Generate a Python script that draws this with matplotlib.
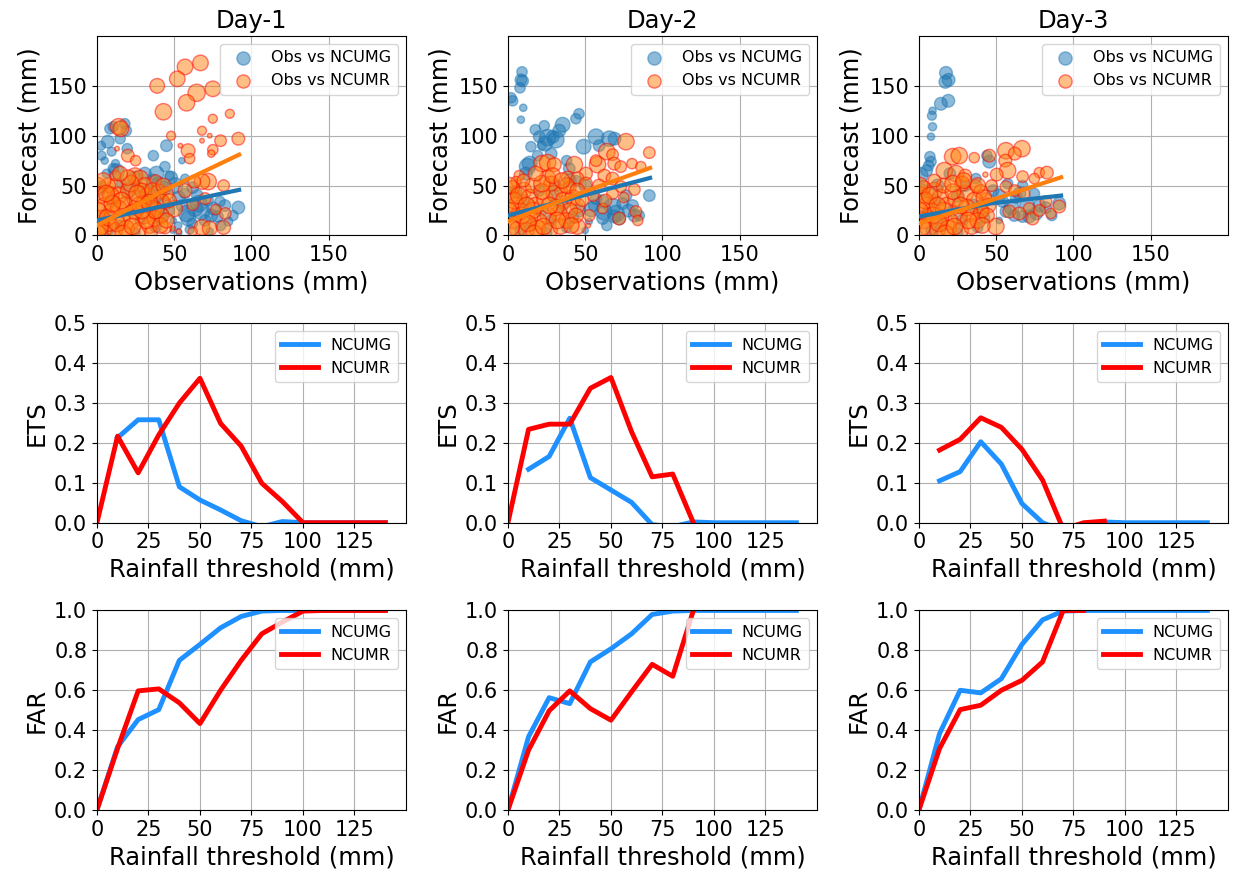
import numpy as np
import matplotlib
matplotlib.use("Agg")
import matplotlib.pyplot as plt

nan = np.nan
days = ["Day-1", "Day-2", "Day-3"]
thresholds = [0, 10, 20, 30, 40, 50, 60, 70, 80, 90, 100, 110, 120, 130, 140]

# ---- ETS ----
ets_g_d1 = [nan, .213, .258, .258, .09, .057, .032, .005, -.01, .003, 0, 0, 0, 0, 0]
ets_r_d1 = [0, .217, .125, .22, .30, .362, .249, .192, .099, .053, 0, 0, 0, 0, 0]
ets_g_d2 = [nan, .134, .166, .262, .113, .082, .051, -.005, -.01, .002, 0, 0, 0, 0, 0]
ets_r_d2 = [0, .234, .247, .247, .337, .364, .228, .115, .122, 0, nan, nan, nan, nan, nan]
ets_g_d3 = [nan, .105, .128, .203, .147, .048, 0, -.02, -.02, .002, 0, 0, 0, 0, 0]
ets_r_d3 = [nan, .182, .209, .263, .239, .184, .107, -.016, 0, .004, nan, nan, nan, nan, nan]

# ---- FAR ----
far_g_d1 = [0, .317, .453, .503, .75, .83, .913, .97, .997, 1, 1, 1, 1, 1, 1]
far_r_d1 = [0, .308, .597, .607, .537, .433, .60, .75, .883, .942, .997, 1, 1, 1, 1]
far_g_d2 = [0, .367, .563, .533, .742, .808, .883, .98, .997, 1, 1, 1, 1, 1, 1]
far_r_d2 = [0, .30, .497, .597, .508, .45, .592, .73, .67, 1, nan, nan, nan, nan, nan]
far_g_d3 = [0, .383, .60, .587, .658, .83, .953, .997, 1, 1, 1, 1, 1, 1, 1]
far_r_d3 = [0, .308, .503, .525, .60, .65, .742, 1, 1, nan, nan, nan, nan, nan, nan]

# ---- scatter: (obs, forecast, size) ----
sc_g_d1 = [(2.6,90,30),(7,94,60),(9.5,84,30),(8.4,107,40),(10.6,109,40),(18,112,40),(19,105,40),(15,97,40),
           (19.6,87,40),(3,80,30),(36.5,80,40),(45,90,50),(44,69,40),(38.6,62,80),(6.3,62,30),(12.7,64,90),
           (10.6,67,40),(3,50,30),(57,57,30),(55,75,15),(31,62,60),(24.6,57,80),(5,75,20),(12,72,25),(16,52,40),
           (26,48,60),(33,45,50),(40,52,70),(47,60,30),(82.8,30,50),(91.5,28,60),(79.6,34,40),(67.7,24,100),
           (63.4,27,90),(59,17,80),(55,30,50),(61.7,12,40),(52.6,10,20),(75.3,27,60),(70,15,50),(49.4,15,15),
           (44,32,60),(39.7,40,50),(50.5,50,90),(88,20,40),(85,14,30),(78,19,50),(72,35,40),(65,40,50),(57,42,40),
           (53,3,15),(49,5,12),(60,6,30),(73,4,20),(5,20,50),(10,35,60),(15,10,40),(22,25,50),(28,15,40),
           (35,30,60),(42,18,50),(30,40,40),(20,42,50),(8,5,30),(2,45,40),(25,3,30),(38,8,40),(46,25,60),
           (66,32,100),(58,22,100),(74,20,60),(80,10,40),(53,38,60),(62,48,50),(48,58,60),(43,47,80),(36,55,60)]
sc_r_d1 = [(57,169,90),(67,173,90),(39,150,80),(52,157,90),(64.5,143,110),(75,147,90),(58,133,100),(43,124,100),
           (75,117,30),(86,122,30),(68,105,30),(48,100,30),(73,100,8),(80,95,50),(91.5,97,60),(68,95,8),(59,85,70),
           (75,86,40),(74,82,20),(54,90,8),(60,77,40),(20,80,60),(25,75,40),(14,109,100),(15.5,107,90),(13,87,8),
           (72,54,100),(68,54,90),(63,54,60),(82,50,50),(57,45,70),(70,37,50),(62,31,50),(83,22,50),(77,26,40),
           (68,8,90),(73,7,80),(82,8,70),(62,4,30),(53,4,10),(49,7,10),(50,27,100),(24.6,60,90),(28,57,100),
           (31,50,90),(11.6,49,90),(7.3,50,80),(2,40,100),(5,30,100),(14,40,100),(18,30,100),(24.6,37,100),
           (33,40,90),(40,44,80),(45,42,70),(42,34,80),(36.5,27,100),(31,20,100),(24.6,24,100),(22,14,100),
           (16,17,100),(9.5,24,100),(3,17,100),(5,7,90),(11.6,5,90),(19,7,100),(27,5,90),(34,10,90),(37.5,17,90),
           (42,20,80),(14,27,100),(20,45,80),(29,45,80),(8,12,90),(1,3,80),(35,3,60),(44,8,60),(30,32,90),
           (12,60,40),(38,55,50),(0.5,50,100),(4,55,90),(9,40,100),(16,35,100),(22,52,100),(27,30,100),
           (32,15,100),(38,25,100),(41,10,90),(45,15,80),(0.5,25,100),(2,8,100),(7,18,100),(13,12,100),
           (17,2,100),(23,9,100),(29,25,100),(36,45,90),(43,50,80),(47,35,70),(20,58,90),(15,62,80),(10,32,100),
           (26,42,100),(34,33,100),(6,42,100)]
sc_g_d2 = [(9.1,164,40),(8.4,156,50),(9.5,155,50),(7.8,148,40),(2,138,40),(3,135,40),(9.9,128,20),(8.4,116,20),
           (46,122,40),(44,117,40),(17.7,106,40),(23.5,110,40),(35.4,111,80),(33.2,105,60),(20.3,99,50),
           (25.7,98,100),(29,99,60),(14.9,89,40),(19.2,80,40),(57,99,90),(65.6,97,90),(69,97,60),(49,89,80),
           (59,90,50),(12.7,69,100),(11.6,62,60),(39.7,67,50),(91.5,40,50),(76.4,40,50),(74.2,32,50),(67.7,29,100),
           (61.3,34,60),(57,37,50),(61.3,17,50),(68.8,19,60),(72,17,60),(52.6,14,15),(55.9,30,50),(80.7,30,50),
           (31,50,50),(5.2,44,50),(85,20,40),(78,25,60),(64,10,40),(50,5,15),(44,55,40),(38,75,40),(28,82,50),
           (22,90,30),(5,20,60),(10,35,60),(15,10,50),(22,25,50),(28,15,50),(35,30,60),(42,18,50),(30,40,50),
           (20,45,50),(8,5,40),(25,3,40),(38,8,40),(46,25,60),(31,96,100),(24,92,80),(62,24,100),(70,22,100),
           (54,26,80),(82,20,60),(50,50,60),(40,55,60),(14,72,80)]
sc_r_d2 = [(76.4,94,100),(91.5,83,50),(64,84,100),(67.7,81,50),(22,72,100),(25.7,73,100),(30,71,70),(43,71,100),
           (58,71,100),(57,75,50),(68.8,72,60),(73,69,50),(80.3,72,40),(86,69,40),(25.7,57,100),(38.6,58,60),
           (50.5,62,60),(62.4,60,60),(67.7,57,60),(81.8,46,50),(73,49,50),(67.7,42,50),(34.3,45,60),(45,57,60),
           (59,50,60),(50.5,52,60),(61.3,27,40),(82.8,24,50),(72,17,60),(52.6,20,50),(45,9,90),(52,10,8),
           (7.3,60,40),(5.2,54,40),(40,48,60),(55,40,50),(63,35,60),(75,38,40),(84,15,40),(2,40,100),(5,30,100),
           (10,45,100),(14,38,100),(18,30,100),(24,37,100),(30,42,100),(36,35,100),(42,38,90),(45,30,80),
           (40,25,90),(33,22,100),(26,20,100),(20,14,100),(14,18,100),(8,24,100),(3,15,100),(6,6,90),(12,5,90),
           (19,7,100),(27,5,90),(34,9,90),(38,15,90),(44,20,80),(16,50,80),(28,52,80),(10,55,60),(22,44,90),
           (31,28,100),(3,48,70),(0.5,50,100),(4,35,100),(9,20,100),(16,25,100),(22,52,100),(27,30,100),
           (32,15,100),(38,50,90),(41,10,90),(45,45,80),(0.5,25,100),(2,8,100),(7,40,100),(13,12,100),(17,2,100),
           (23,9,100),(29,60,90),(35,55,90),(18,62,80),(48,36,70),(12,30,100)]
sc_g_d3 = [(17.5,163,60),(17.1,154,60),(19.2,156,60),(14.2,132,60),(19,135,60),(8.8,125,20),(8.4,120,30),
           (8.8,109,25),(7.8,99,20),(7.1,79,40),(7.8,74,40),(0.5,60,100),(6.3,70,40),(45.5,74,60),(44,80,40),
           (36.9,57,40),(90.8,32,60),(71.4,19,60),(67.1,19,50),(61.7,20,50),(56.3,24,50),(52,15,15),(74.7,42,40),
           (67.1,50,40),(57.4,52,40),(54.2,34,50),(82,28,50),(86,20,40),(78,30,60),(63,38,50),(48,45,50),
           (30,50,50),(12,50,60),(3,45,60),(40,30,50),(25,40,60),(20,62,50),(5,65,50),(5,20,60),(10,35,60),
           (15,10,50),(22,25,50),(28,15,50),(35,30,60),(42,18,50),(8,5,40),(25,3,40),(38,8,40),(70,30,80),
           (60,28,80),(76,22,60),(65,42,60),(52,40,60)]
sc_r_d3 = [(56.3,85,100),(66.7,87,100),(62,82,60),(21.8,79,100),(26.1,80,100),(35.8,78,40),(45.5,80,60),
           (55.9,75,60),(57.4,65,100),(50.3,61,60),(43,61,10),(77.9,63,40),(82.8,63,60),(74.7,57,40),(67.1,59,50),
           (16.4,65,100),(24,62,100),(30,60,60),(36.9,50,50),(47,50,50),(56.3,49,50),(62,45,50),(68,42,50),
           (71.4,27,50),(82.2,34,50),(90.8,29,60),(85.4,22,40),(73.5,17,60),(58.5,24,60),(49.8,9,100),(41.2,24,60),
           (43.4,37,50),(40,44,70),(65,22,60),(78,25,50),(2,40,100),(5,30,100),(10,45,100),(14,38,100),(18,30,100),
           (24,37,100),(30,42,100),(36,35,100),(42,38,90),(45,30,80),(40,25,90),(33,22,100),(26,20,100),
           (20,14,100),(14,18,100),(8,24,100),(3,15,100),(6,6,90),(12,5,90),(19,7,100),(27,5,90),(34,9,90),
           (38,15,90),(44,20,80),(16,50,80),(28,52,80),(10,55,60),(22,44,90),(31,28,100),(3,48,70),(0.5,50,100),
           (4,35,100),(9,20,100),(16,25,100),(22,52,100),(27,30,100),(32,15,100),(38,50,90),(41,10,90),
           (0.5,25,100),(2,8,100),(7,40,100),(13,12,100),(17,2,100),(23,9,100),(29,55,90),(12,30,100)]

# ---- fitted trend lines (obs, forecast) ----
fit_x = [0, 46, 92]
fit_g = [[15, 30.5, 45.7], [20, 39, 57.7], [19, 32, 40]]
fit_r = [[10, 47, 81], [14, 42, 67.7], [12.3, 35, 58.3]]

ets_g = [ets_g_d1, ets_g_d2, ets_g_d3]
ets_r = [ets_r_d1, ets_r_d2, ets_r_d3]
far_g = [far_g_d1, far_g_d2, far_g_d3]
far_r = [far_r_d1, far_r_d2, far_r_d3]
sc_g = [sc_g_d1, sc_g_d2, sc_g_d3]
sc_r = [sc_r_d1, sc_r_d2, sc_r_d3]

TICK = 15
LAB = 17.5
LEG = 11.5
SIZE_SCALE = 1.4

fig, axes = plt.subplots(3, 3, figsize=(12.35, 8.73), dpi=100)
fig.subplots_adjust(left=0.0785, right=0.9943, bottom=0.0722, top=0.9588, wspace=0.33, hspace=0.44)

for j in range(3):
    ax = axes[0, j]
    g = np.array(sc_g[j]); r = np.array(sc_r[j])
    ax.scatter(g[:, 0], g[:, 1], s=g[:, 2] * SIZE_SCALE, color="C0", alpha=0.5, label="Obs vs NCUMG", zorder=2)
    ax.scatter(r[:, 0], r[:, 1], s=r[:, 2] * SIZE_SCALE, facecolor="C1", edgecolor="red", alpha=0.5,
               linewidths=1, label="Obs vs NCUMR", zorder=2)
    ax.plot(fit_x, fit_g[j], color="C0", lw=3, zorder=3)
    ax.plot(fit_x, fit_r[j], color="C1", lw=3, zorder=3)
    ax.set_xlim(0, 200); ax.set_ylim(0, 200)
    ax.set_xticks([0, 50, 100, 150]); ax.set_yticks([0, 50, 100, 150])
    ax.grid(True)
    ax.set_axisbelow(True)
    ax.set_title(days[j], fontsize=LAB)
    ax.set_xlabel("Observations (mm)", fontsize=LAB)
    ax.set_ylabel("Forecast (mm)", fontsize=LAB)
    ax.tick_params(labelsize=TICK)
    leg = ax.legend(loc="upper right", fontsize=LEG)
    for h in leg.legend_handles:
        h.set_sizes([90])

    ax = axes[1, j]
    ax.plot(thresholds, ets_g[j], color="dodgerblue", lw=3.5, label="NCUMG")
    ax.plot(thresholds, ets_r[j], color="red", lw=3.5, label="NCUMR")
    ax.set_xlim(0, 150); ax.set_ylim(0, 0.5)
    ax.set_xticks([0, 25, 50, 75, 100, 125])
    ax.set_yticks([0.0, 0.1, 0.2, 0.3, 0.4, 0.5])
    ax.grid(True)
    ax.set_xlabel("Rainfall threshold (mm)", fontsize=LAB)
    ax.set_ylabel("ETS", fontsize=LAB)
    ax.tick_params(labelsize=TICK)
    ax.legend(loc="upper right", fontsize=LEG, handlelength=2.3)

    ax = axes[2, j]
    ax.plot(thresholds, far_g[j], color="dodgerblue", lw=3.5, label="NCUMG")
    ax.plot(thresholds, far_r[j], color="red", lw=3.5, label="NCUMR")
    ax.set_xlim(0, 150); ax.set_ylim(0, 1.0)
    ax.set_xticks([0, 25, 50, 75, 100, 125])
    ax.set_yticks([0.0, 0.2, 0.4, 0.6, 0.8, 1.0])
    ax.grid(True)
    ax.set_xlabel("Rainfall threshold (mm)", fontsize=LAB)
    ax.set_ylabel("FAR", fontsize=LAB)
    ax.tick_params(labelsize=TICK)
    ax.legend(loc="upper right", fontsize=LEG, handlelength=2.3)

fig.savefig("out.png", dpi=100)
